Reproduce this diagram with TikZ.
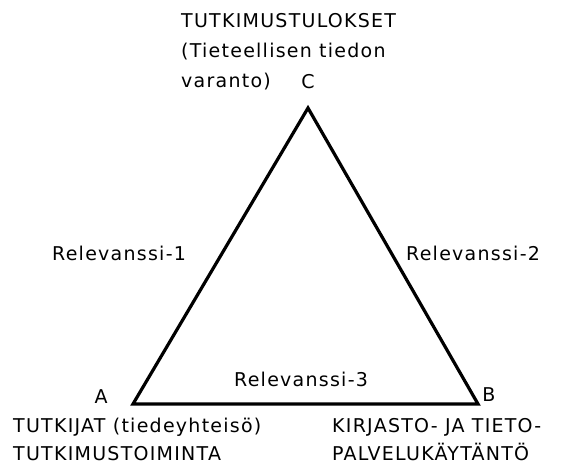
\documentclass[tikz,border=0pt]{standalone}
\usepackage{fontspec}
\setmainfont{DejaVu Sans}[LetterSpace=6.6]
\begin{document}
\begin{tikzpicture}[x=1pt,y=-1pt,
    lbl/.style={inner sep=0pt,font=\fontsize{19}{30}\selectfont},
    lblt/.style={lbl,align=left,anchor=base west}]
        \useasboundingbox (0,0) rectangle (579,465);
        % corners of the triangle
        \coordinate (A) at (133,404);
        \coordinate (B) at (478,404);
        \coordinate (C) at (308,108);
        \draw[line width=3.2pt,line join=miter] (A) -- (B) -- (C) -- cycle;
        % corner letters
        \node[lbl,anchor=base] (a) at (101,403) {A};
        \node[lbl,anchor=base] (b) at (489,402) {B};
        \node[lbl,anchor=base] (c) at (308,89) {C};
        % relevance labels
        \node[lbl,anchor=base west] (r1) at (52,261) {Relevanssi-1};
        \node[lbl,anchor=base west] (r2) at (406,261) {Relevanssi-2};
        \node[lbl,anchor=base west] (r3) at (234,387) {Relevanssi-3};
        % texts of the corners (base = last line)
        \node[lblt] (tc) at (181,88) {TUTKIMUSTULOKSET\\(Tieteellisen tiedon\\varanto)};
        \node[lblt,font=\fontsize{19}{28}\selectfont] (ta) at (13,460) {TUTKIJAT (tiedeyhteisö)\\TUTKIMUSTOIMINTA};
        \node[lblt,font=\fontsize{19}{28}\selectfont] (tb) at (332,460) {KIRJASTO- JA TIETO-\\PALVELUKÄYTÄNTÖ};
\end{tikzpicture}
\end{document}
